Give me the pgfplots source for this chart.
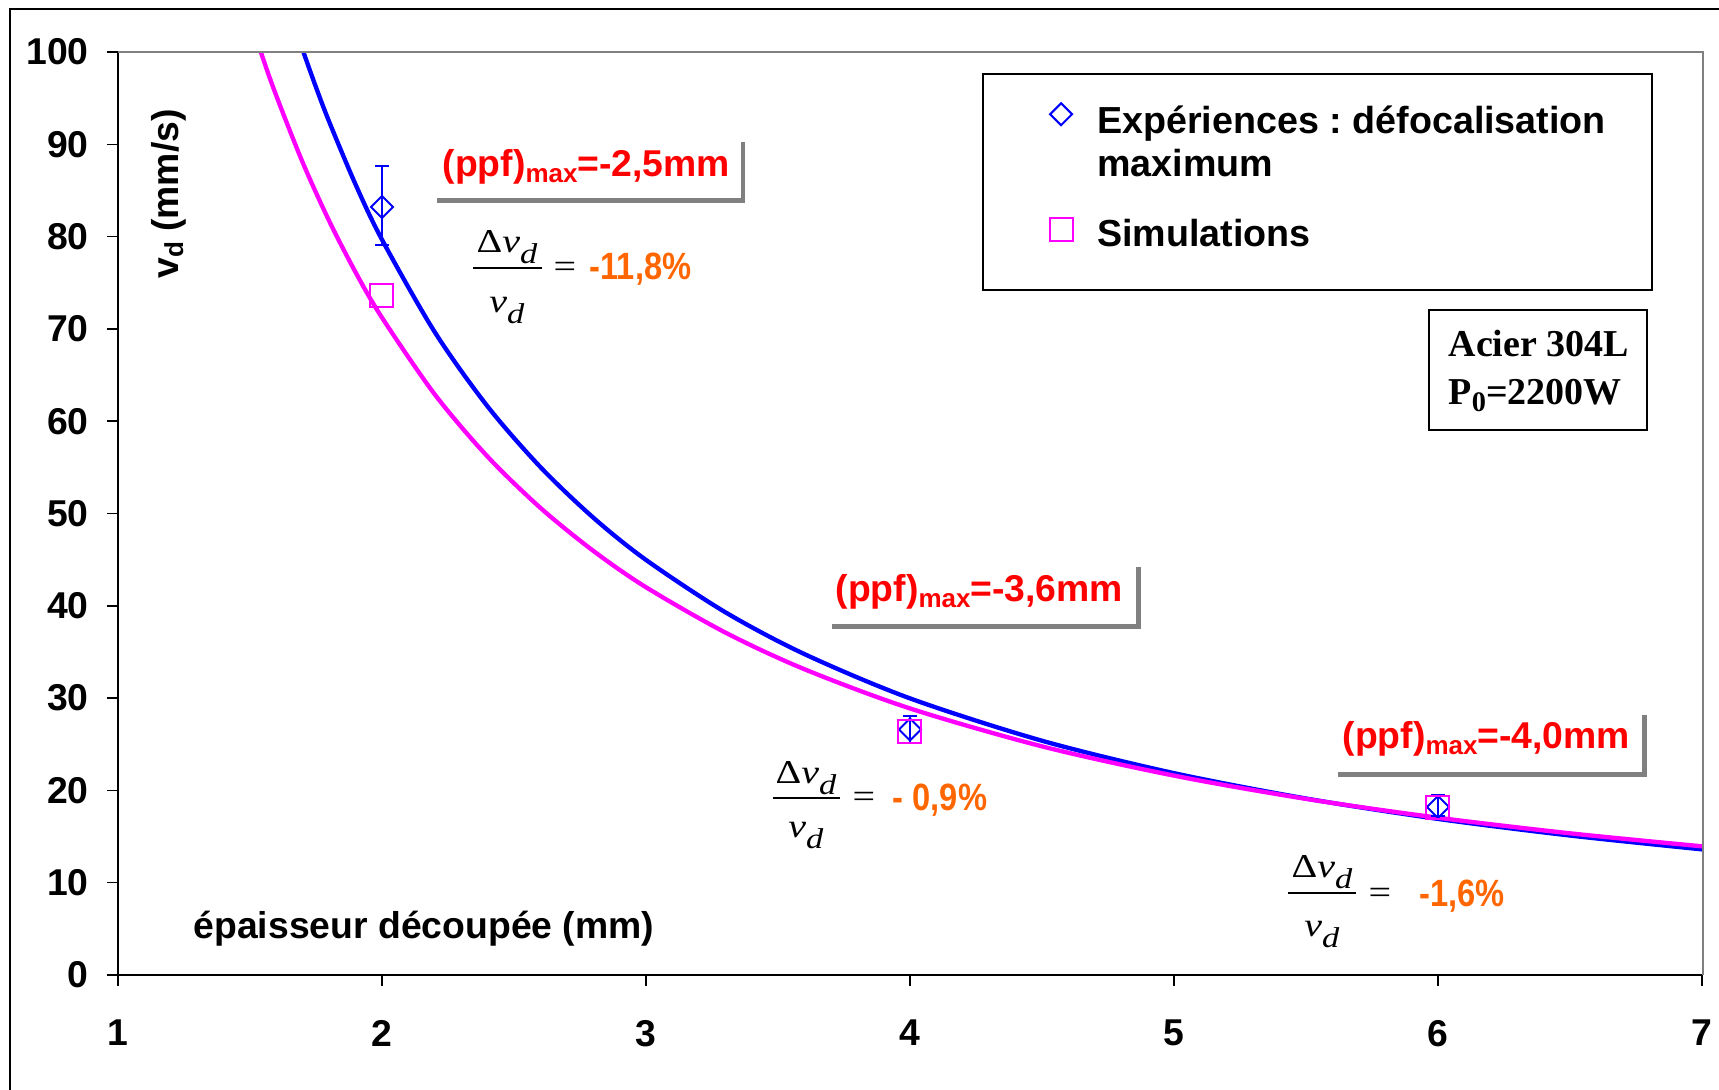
\documentclass[border=0pt]{standalone}
\usepackage{fontspec}
\setmainfont{Liberation Sans}
\newfontfamily\tms{Liberation Serif}
\usepackage{graphicx}
\usepackage{pgfplots}
\pgfplotsset{compat=1.18}
\definecolor{gr}{RGB}{128,128,128}
\definecolor{org}{RGB}{255,102,0}
\definecolor{mag}{RGB}{255,0,255}
\definecolor{blu}{RGB}{0,0,255}
\frenchspacing
\newcommand\sfb{\fontsize{11.2}{13.5}\selectfont\bfseries}
\newcommand\fracnum{\scalebox{1.2}[1]{\tms\fontsize{10}{12}\selectfont Δ\textit{v}\raisebox{-3.3pt}{\fontsize{8.6}{9}\selectfont\textit{d}}}}
\newcommand\fracden{\scalebox{1.2}[1]{\tms\fontsize{10}{12}\selectfont\textit{v}\raisebox{-3.3pt}{\fontsize{8.6}{9}\selectfont\textit{d}}}}
\newcommand\feq{\scalebox{1.2}[1]{\tms\fontsize{10}{12}\selectfont =}}
\newcommand\ppf[1]{(ppf)\raisebox{-1.8pt}{\fontsize{7.8}{9}\selectfont max}=#1}
\newcommand\orng[1]{\scalebox{0.86}[1]{\fontsize{11.4}{13}\selectfont\bfseries #1}}
\begin{document}
\begin{tikzpicture}
\begin{axis}[
  at={(35.4pt,-292.5pt)}, anchor=south west,
  scale only axis, width=475.2pt, height=276.9pt,
  xmin=1, xmax=7, ymin=0, ymax=100,
  xtick={1,2,3,4,5,6,7}, ytick={0,10,...,100},
  axis x line*=bottom, axis y line*=left,
  axis line style={black, line width=0.6pt, -},
  tick align=outside, major tick length=3.3pt,
  tick style={black, line width=0.45pt},
  /pgf/number format/assume math mode=true,
  ticklabel style={font=\sfb},
  yticklabel style={anchor=east, inner sep=0pt, xshift=-5.3pt},
  xticklabel style={anchor=north, inner sep=0pt, yshift=-10.05pt},
  legend style={at={(0.5814,0.9594)}, anchor=north west, draw=none, fill=none,
    font=\fontsize{11.3}{12.8}\selectfont\bfseries, row sep=20.4pt, column sep=5.4pt},
  legend image post style={yshift=2pt},
  legend cell align=left,
]
% fitted curves
\addplot[blu, line width=1.3pt, smooth, forget plot] coordinates {
 (1.65,104.5) (1.7,100.2) (1.75,96.18) (1.8,92.44) (1.9,85.64) (2,79.67)
 (2.2,69.65) (2.4,61.60) (2.6,55.03) (2.8,49.56) (3,44.97) (3.3,39.31)
 (3.6,34.77) (4,29.97) (4.5,25.38) (5,21.87) (5.5,19.12) (6,16.91)
 (6.5,15.11) (7,13.61)};
\addplot[mag, line width=1.3pt, smooth, forget plot] coordinates {
 (1.5,103.6) (1.55,99.24) (1.6,95.23) (1.7,88.00) (1.8,81.69) (1.9,76.13)
 (2,71.22) (2.2,62.90) (2.4,56.16) (2.6,50.61) (2.8,45.96) (3,42.01)
 (3.3,37.11) (3.6,33.13) (4,28.88) (4.5,24.77) (5,21.60) (5.5,19.08)
 (6,17.04) (6.5,15.35) (7,13.94)};
% experiments
\addplot[blu, only marks, mark=square, mark size=2.33pt,
  mark options={rotate=45, line width=0.6pt, blu, fill=none},
  error bars/.cd, y dir=both, y explicit,
  error bar style={blu, line width=0.6pt},
  error mark options={rotate=90, blu, mark size=2pt, line width=0.6pt}]
  coordinates {(2,83.2) += (0,4.4) -= (0,4.1)
               (4,26.6) += (0,1.5) -= (0,1.5)
               (6,18.2) += (0,1.3) -= (0,1.0)};
\addlegendentry{\begin{tabular}[t]{@{}l@{}}Expériences : défocalisation\\maximum\end{tabular}}
% simulations
\addplot[mag, only marks, mark=square, mark size=3.45pt,
  mark options={line width=0.6pt, mag, fill=none}]
  coordinates {(2,73.6) (4,26.4) (6,18.2)};
\addlegendentry{Simulations}
\end{axis}

\begin{scope}[x=0.3pt,y=-0.3pt]
\path[use as bounding box] (0,0) rectangle (1719,1090);
\draw[line width=0.6pt] (10,1095) -- (10,9) -- (1725,9);
\draw[gr, line width=0.6pt] (118,52) -- (1703,52) -- (1703,975);
% legend frame
\draw[black, line width=0.45pt] (983,74) rectangle (1652,290);
% material box
\draw[line width=0.6pt] (1429,310) rectangle (1647,430);
\node[anchor=base west, inner sep=0, font=\tms\fontsize{11.4}{13}\selectfont\bfseries] at (1448,357) {Acier 304L};
\node[anchor=base west, inner sep=0, font=\tms\fontsize{11.4}{13}\selectfont\bfseries] at (1448,405) {P\raisebox{-2pt}{\fontsize{8.5}{9}\selectfont 0}=2200W};
% axis titles
\node[rotate=90, anchor=base, inner sep=0, font=\sfb] at (178,194) {v\raisebox{-1.5pt}{\fontsize{7.8}{9}\selectfont d} (mm/s)};
\node[anchor=base west, inner sep=0, font=\sfb] at (193,938) {épaisseur découpée (mm)};
% annotation 1
\fill[gr] (437,198) rectangle (745,203);
\fill[gr] (741,142) rectangle (745,203);
\node[anchor=base west, inner sep=0, text=red, font=\sfb] at (442,177) {\ppf{-2,5mm}};
\draw[line width=0.45pt] (473,268) -- (542,268);
\node[anchor=base, inner sep=0] at (507,253) {\fracnum};
\node[anchor=base, inner sep=0] at (507,313) {\fracden};
\node[anchor=center, inner sep=0] at (565,270) {\feq};
\node[anchor=base west, inner sep=0, text=org] at (589,280) {\orng{-11,8\%}};
% annotation 2
\fill[gr] (832,624) rectangle (1141,629);
\fill[gr] (1136,567) rectangle (1141,629);
\node[anchor=base west, inner sep=0, text=red, font=\sfb] at (835,602) {\ppf{-3,6mm}};
\draw[line width=0.45pt] (773,798) -- (840,798);
\node[anchor=base, inner sep=0] at (806,783) {\fracnum};
\node[anchor=base, inner sep=0] at (806,837) {\fracden};
\node[anchor=center, inner sep=0] at (864,800) {\feq};
\node[anchor=base west, inner sep=0, text=org] at (892,810) {\orng{- 0,9\%}};
% annotation 3
\fill[gr] (1338,772) rectangle (1647,777);
\fill[gr] (1642,715) rectangle (1647,777);
\node[anchor=base west, inner sep=0, text=red, font=\sfb] at (1342,748) {\ppf{-4,0mm}};
\draw[line width=0.45pt] (1288,893) -- (1356,893);
\node[anchor=base, inner sep=0] at (1322,877) {\fracnum};
\node[anchor=base, inner sep=0] at (1322,936) {\fracden};
\node[anchor=center, inner sep=0] at (1380,896) {\feq};
\node[anchor=base west, inner sep=0, text=org] at (1419,906) {\orng{-1,6\%}};
\end{scope}
\end{tikzpicture}
\end{document}
